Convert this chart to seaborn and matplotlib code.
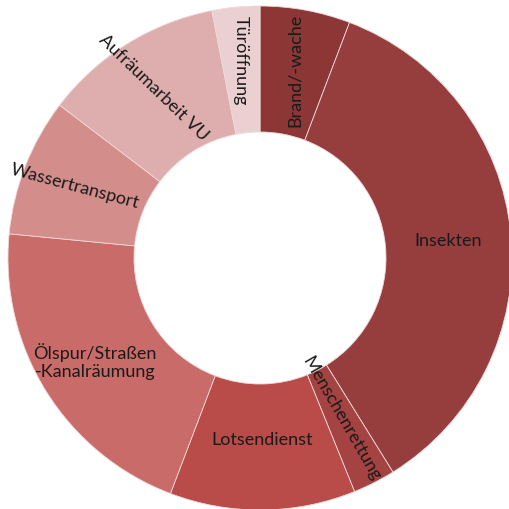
import numpy as np
import matplotlib
matplotlib.use('Agg')
import matplotlib.pyplot as plt
import seaborn as sns

categories = ['Brand/-wache', 'Insekten', 'Menschenrettung', 'Lotsendienst',
              'Ölspur/Straßen\n-Kanalräumung', 'Wassertransport', 'Aufräumarbeit VU', 'Türöffnung']
values = [17, 104, 8, 35, 61, 26, 34, 9]
colors = ['#8c3636', '#963e3e', '#a44341', '#b94b48', '#c96b69', '#d38e8c', '#ddaead', '#ead0d0']

# label styling (rotation, distance from centre as fraction of radius)
rotations = [90, 0, -60, 0, 0, -15, -44, -90]
label_r = [0.76, 0.75, 0.71, 0.72, 0.77, 0.79, 0.80, 0.79]

sns.set_theme(style='white')
plt.rcParams['font.family'] = ['Lato', 'DejaVu Sans']

fig = plt.figure(figsize=(5.09, 5.10), dpi=100)
ax = fig.add_axes([0, 0, 1, 1])

wedges, _ = ax.pie(values, colors=colors, startangle=90, counterclock=False,
                   radius=1, wedgeprops=dict(width=0.5, edgecolor='#f0d8d8', linewidth=0.6))

for w, label, rot, r in zip(wedges, categories, rotations, label_r):
    mid = np.deg2rad((w.theta1 + w.theta2) / 2)
    ax.text(r * np.cos(mid), r * np.sin(mid), label, rotation=rot,
            ha='center', va='center', multialignment='center',
            fontsize=13, color='#1a1a1a', rotation_mode='anchor')

ax.set_xlim(-260 / 252, 249 / 252)
ax.set_ylim(-251 / 252, 259 / 252)
ax.set_aspect('auto')
ax.axis('off')

fig.savefig('out.png', dpi=100)
